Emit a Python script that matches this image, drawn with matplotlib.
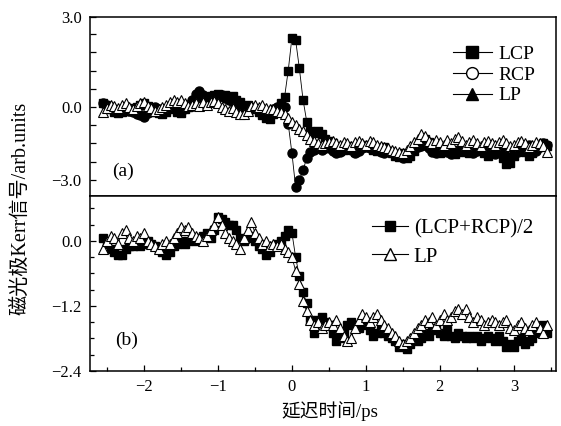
import numpy as np
import matplotlib
matplotlib.use("Agg")
import matplotlib.pyplot as plt
from matplotlib.lines import Line2D
from matplotlib.ticker import FixedLocator, FixedFormatter

# delay axis (ps)
t = np.round(np.arange(-2.55, 3.4501, 0.05), 2)

# panel (a)
lcp = [0.15, 0.05, -0.1, -0.2, -0.25, -0.2, -0.15, -0.05, -0.1, 0.0, 0.1, 0.15, 0.05, -0.1, -0.2, -0.25, -0.3, -0.2,
       -0.1, -0.05, -0.2, -0.25, -0.1, 0.0, 0.1, 0.2, 0.25, 0.2, 0.3, 0.45, 0.5, 0.55, 0.45, 0.5, 0.4, 0.45, 0.3, 0.2,
       0.05, 0.1, 0.0, -0.1,
       -0.2, -0.35, -0.45, -0.5, -0.3, -0.1, 0.15, 0.4, 1.5,
       2.85, 2.75, 1.6, 0.3, -0.6, -1.0, -1.05, -1.0, -1.1, -1.3,
       -1.4, -1.5, -1.7, -1.8, -1.75, -1.6, -1.7, -1.85, -1.7, -1.6, -1.55, -1.6, -1.75, -1.8, -1.7, -1.65, -1.8, -1.9,
       -2.0, -2.05, -1.9, -2.1, -2.0, -1.8, -1.6, -1.5, -1.3, -1.45, -1.6, -1.75, -1.9, -1.8, -1.7, -1.8, -1.95, -1.85,
       -1.75, -1.85, -1.9, -1.8, -1.7, -1.75, -1.9, -2.0, -1.85, -1.7, -1.8, -2.1, -2.35, -2.3, -2.0, -1.8, -1.7, -1.85,
       -2.0, -1.9, -1.7, -1.55, -1.5, -1.6]
rcp = [0.15, 0.1, 0.0, -0.1, -0.15, -0.1, -0.05, -0.15, -0.2, -0.3, -0.35, -0.4, -0.25, -0.1, 0.0, -0.1, -0.2, -0.15,
       -0.05, 0.0, -0.1, -0.2, -0.05, 0.1, 0.3, 0.55, 0.65, 0.5, 0.4, 0.3, 0.35, 0.4, 0.5, 0.35, 0.3, 0.2, 0.1, 0.05,
       0.0, -0.05, -0.1, -0.05,
       -0.1, -0.2, -0.3, -0.2, -0.1, 0.0, 0.1, 0.0, -0.7,
       -1.9, -3.3, -3.0, -2.6, -2.1, -1.85, -1.75, -1.7, -1.75, -1.7,
       -1.7, -1.8, -1.9, -1.85, -1.7, -1.65, -1.75, -1.9, -1.8, -1.7, -1.65, -1.7, -1.6, -1.7, -1.85, -1.9, -1.8, -1.85,
       -1.95, -2.0, -2.1, -1.95, -1.85, -1.7, -1.65, -1.6, -1.55, -1.7, -1.85, -1.9, -1.8, -1.7, -1.85, -1.95, -1.9,
       -1.75, -1.7, -1.8, -1.85, -1.9, -1.8, -1.7, -1.65, -1.8, -1.9, -1.95, -1.85, -1.9, -2.0, -2.1, -1.95, -1.85,
       -1.75, -1.6, -1.55, -1.7, -1.8, -1.65, -1.5, -1.55]
lp_a = [-0.2, -0.05, 0.1, 0.05, -0.05, 0.1, 0.15, 0.0, -0.1, 0.05, 0.15, 0.2, 0.05, -0.05, -0.15, -0.1, 0.0, 0.1,
        0.2, 0.3, 0.2, 0.3, 0.15, 0.05, 0.1, 0.15, 0.05, 0.2, 0.1, 0.2, 0.25, 0.15, 0.0, -0.1, -0.15, -0.05, -0.2, -0.3,
        -0.3, -0.15, 0.05, 0.1,
        0.0, 0.1, -0.05, -0.1, -0.1, -0.15, -0.2, -0.3, -0.45,
        -0.6, -0.75, -0.9, -1.0, -1.15, -1.3, -1.4, -1.5, -1.55, -1.5,
        -1.45, -1.4, -1.5, -1.55, -1.45, -1.5, -1.6, -1.45, -1.4, -1.5, -1.55, -1.4, -1.45, -1.55, -1.6, -1.65, -1.7,
        -1.75, -1.8, -1.85, -1.9, -1.75, -1.6, -1.45, -1.3, -1.1, -1.2, -1.4, -1.5, -1.35, -1.45, -1.55, -1.35, -1.5,
        -1.3, -1.25, -1.4, -1.55, -1.45, -1.35, -1.5, -1.6, -1.45, -1.4, -1.5, -1.55, -1.45, -1.35, -1.5, -1.6, -1.55,
        -1.45, -1.4, -1.5, -1.65, -1.55, -1.45, -1.5, -1.6, -1.85]

# panel (b)
avg_b = [0.05, -0.05, -0.15, -0.2, -0.25, -0.25, -0.15, -0.1, -0.1, -0.05, -0.1, -0.05, 0.0, -0.05, -0.1, -0.15,
         -0.2, -0.25, -0.2, -0.1, -0.05, 0.0, -0.05, 0.0, 0.05, 0.0, 0.05, 0.1, 0.15, 0.05, 0.2, 0.45, 0.4, 0.35, 0.3,
         0.3, 0.2, 0.05, 0.0, 0.05, 0.1, 0.0,
         -0.1, -0.15, -0.25, -0.2, -0.1, -0.05, 0.0, 0.1, 0.2,
         0.15, -0.3, -0.65, -0.95, -1.15, -1.45, -1.7, -1.45, -1.4, -1.5,
         -1.55, -1.7, -1.85, -1.8, -1.7, -1.55, -1.5, -1.55, -1.6, -1.5, -1.55, -1.65, -1.75, -1.7, -1.65, -1.7, -1.75,
         -1.8, -1.85, -1.95, -1.9, -2.0, -1.9, -1.8, -1.85, -1.8, -1.7, -1.75, -1.65, -1.6, -1.7, -1.75, -1.65, -1.75,
         -1.8, -1.7, -1.75, -1.8, -1.75, -1.8, -1.75, -1.85, -1.8, -1.75, -1.8, -1.85, -1.75, -1.85, -1.95, -1.9,
         -1.95, -1.85, -1.8, -1.9, -1.85, -1.8, -1.7, -1.6, -1.55, -1.7]
lp_b = [-0.15, 0.0, 0.1, 0.05, -0.05, 0.15, 0.2, 0.05, 0.0, 0.1, 0.05, 0.15, 0.0, -0.05, -0.1, -0.15, -0.05, 0.0,
        -0.05, 0.05, 0.15, 0.25, 0.2, 0.25, 0.15, 0.1, 0.05, 0.0, 0.1, 0.2, 0.3, 0.45, 0.3, 0.15, 0.05, 0.0, -0.05,
        -0.15, 0.05, 0.2, 0.35, 0.15,
        0.05, -0.05, 0.0, -0.1, -0.05, -0.1, -0.05, -0.15, -0.2,
        -0.3, -0.55, -0.8, -1.1, -1.3, -1.45, -1.55, -1.5, -1.6, -1.55,
        -1.5, -1.55, -1.45, -1.6, -1.75, -1.85, -1.8, -1.6, -1.45, -1.35, -1.4, -1.5, -1.4, -1.35, -1.45, -1.55, -1.6,
        -1.7, -1.75, -1.85, -1.9, -1.85, -1.8, -1.7, -1.6, -1.55, -1.45, -1.5, -1.4, -1.55, -1.45, -1.35, -1.45, -1.4,
        -1.3, -1.25, -1.35, -1.25, -1.4, -1.5, -1.4, -1.45, -1.55, -1.5, -1.45, -1.5, -1.55, -1.5, -1.45, -1.6, -1.65,
        -1.55, -1.5, -1.6, -1.65, -1.55, -1.5, -1.6, -1.7, -1.55]

legend_a = ["LCP", "RCP", "LP"]
legend_b = ["(LCP+RCP)/2", "LP"]
xlabel = "延迟时间/ps"
ylabel = "磁光极Kerr信号/arb.units"

FAM = ["Liberation Serif", "Noto Sans CJK SC", "DejaVu Sans"]
plt.rcParams["font.family"] = FAM
plt.rcParams["axes.unicode_minus"] = True

W, H = 561, 426
fig = plt.figure(figsize=(W / 100, H / 100), dpi=100)

def fx(px):
    return px / W

def fy(py):
    return 1 - py / H

L, R = 90, 556
ax1 = fig.add_axes([fx(L), fy(196), fx(R) - fx(L), fy(17) - fy(196)])
ax2 = fig.add_axes([fx(L), fy(371), fx(R) - fx(L), fy(196) - fy(371)])

lw = 0.6
MS_S, MS_O, MS_T = 6.3, 6.5, 7.6
ax1.plot(t, lcp, color="black", lw=lw, marker="s", ms=MS_S, mfc="black", mec="black", zorder=3)
ax1.plot(t, rcp, color="black", lw=lw, marker="o", ms=MS_O, mfc="black", mec="black", zorder=4)
ax1.plot(t, lp_a, color="black", lw=lw, marker="^", ms=MS_T, mfc="white", mec="black", mew=0.8, zorder=5)

ax2.plot(t, avg_b, color="black", lw=lw, marker="s", ms=MS_S, mfc="black", mec="black", zorder=3)
ax2.plot(t, lp_b, color="black", lw=lw, marker="^", ms=MS_T, mfc="white", mec="black", mew=0.8, zorder=5)

xmin, xmax = -2.73, 3.57
for ax in (ax1, ax2):
    ax.set_xlim(xmin, xmax)
    for s in ax.spines.values():
        s.set_linewidth(1.1)
    ax.tick_params(direction="in", width=0.9, labelsize=12, pad=6)

ax1.set_ylim(-3.66, 3.70)
ax1.yaxis.set_major_locator(FixedLocator([-3.0, 0.0, 3.70]))
ax1.yaxis.set_major_formatter(FixedFormatter(["\u22123.0", "0.0", "3.0"]))
ax1.yaxis.set_minor_locator(FixedLocator([-2.25, -1.5, -0.75, 0.75, 1.5, 2.25, 3.0]))
ax1.tick_params(axis="x", which="both", bottom=False, labelbottom=False)
ax1.tick_params(axis="y", which="major", length=4)
ax1.tick_params(axis="y", which="minor", direction="in", length=4, width=0.9)

ax2.set_ylim(-2.4, 0.83)
ax2.yaxis.set_major_locator(FixedLocator([-2.4, -1.2, 0.0]))
ax2.yaxis.set_major_formatter(FixedFormatter(["\u22122.4", "\u22121.2", "0.0"]))
ax2.yaxis.set_minor_locator(FixedLocator([-2.1, -1.8, -1.5, -0.9, -0.6, -0.3, 0.3, 0.6]))
ax2.xaxis.set_major_locator(FixedLocator([-2, -1, 0, 1, 2, 3]))
ax2.xaxis.set_major_formatter(FixedFormatter(["\u22122", "\u22121", "0", "1", "2", "3"]))
ax2.xaxis.set_minor_locator(FixedLocator([-2.5, -1.5, -0.5, 0.5, 1.5, 2.5, 3.5]))
ax2.tick_params(axis="both", which="major", length=4)
ax2.tick_params(axis="both", which="minor", direction="in", length=3, width=0.9)
ax2.tick_params(axis="x", which="major", pad=6)

ax1.text(fx(112), fy(171), "(a)", transform=fig.transFigure, fontsize=14, ha="left", va="center")
ax2.text(fx(115), fy(340), "(b)", transform=fig.transFigure, fontsize=14, ha="left", va="center")

ha = [Line2D([], [], color="black", lw=0.8, marker="s", ms=8, mfc="black", mec="black"),
      Line2D([], [], color="black", lw=0.8, marker="o", ms=8.5, mfc="white", mec="black"),
      Line2D([], [], color="black", lw=0.8, marker="^", ms=9, mfc="black", mec="black")]
ax1.legend(ha, legend_a, loc="upper left", bbox_to_anchor=(fx(453), fy(45)), bbox_transform=fig.transFigure,
           frameon=False, fontsize=14, handlelength=2.0, handletextpad=0.35, labelspacing=0.17,
           borderpad=0, borderaxespad=0)

hb = [Line2D([], [], color="black", lw=0.8, marker="s", ms=7.5, mfc="black", mec="black"),
      Line2D([], [], color="black", lw=0.8, marker="^", ms=8.5, mfc="white", mec="black")]
ax2.legend(hb, legend_b, loc="upper left", bbox_to_anchor=(fx(372), fy(219)), bbox_transform=fig.transFigure,
           frameon=False, fontsize=15, handlelength=1.75, handletextpad=0.25, labelspacing=0.4,
           borderpad=0, borderaxespad=0)

fig.text(fx(330), fy(411), xlabel, fontsize=13.5, ha="center", va="center")
fig.text(fx(21), fy(208), ylabel, fontsize=14.5, ha="center", va="center", rotation=90)

fig.savefig("out.png", dpi=100)
